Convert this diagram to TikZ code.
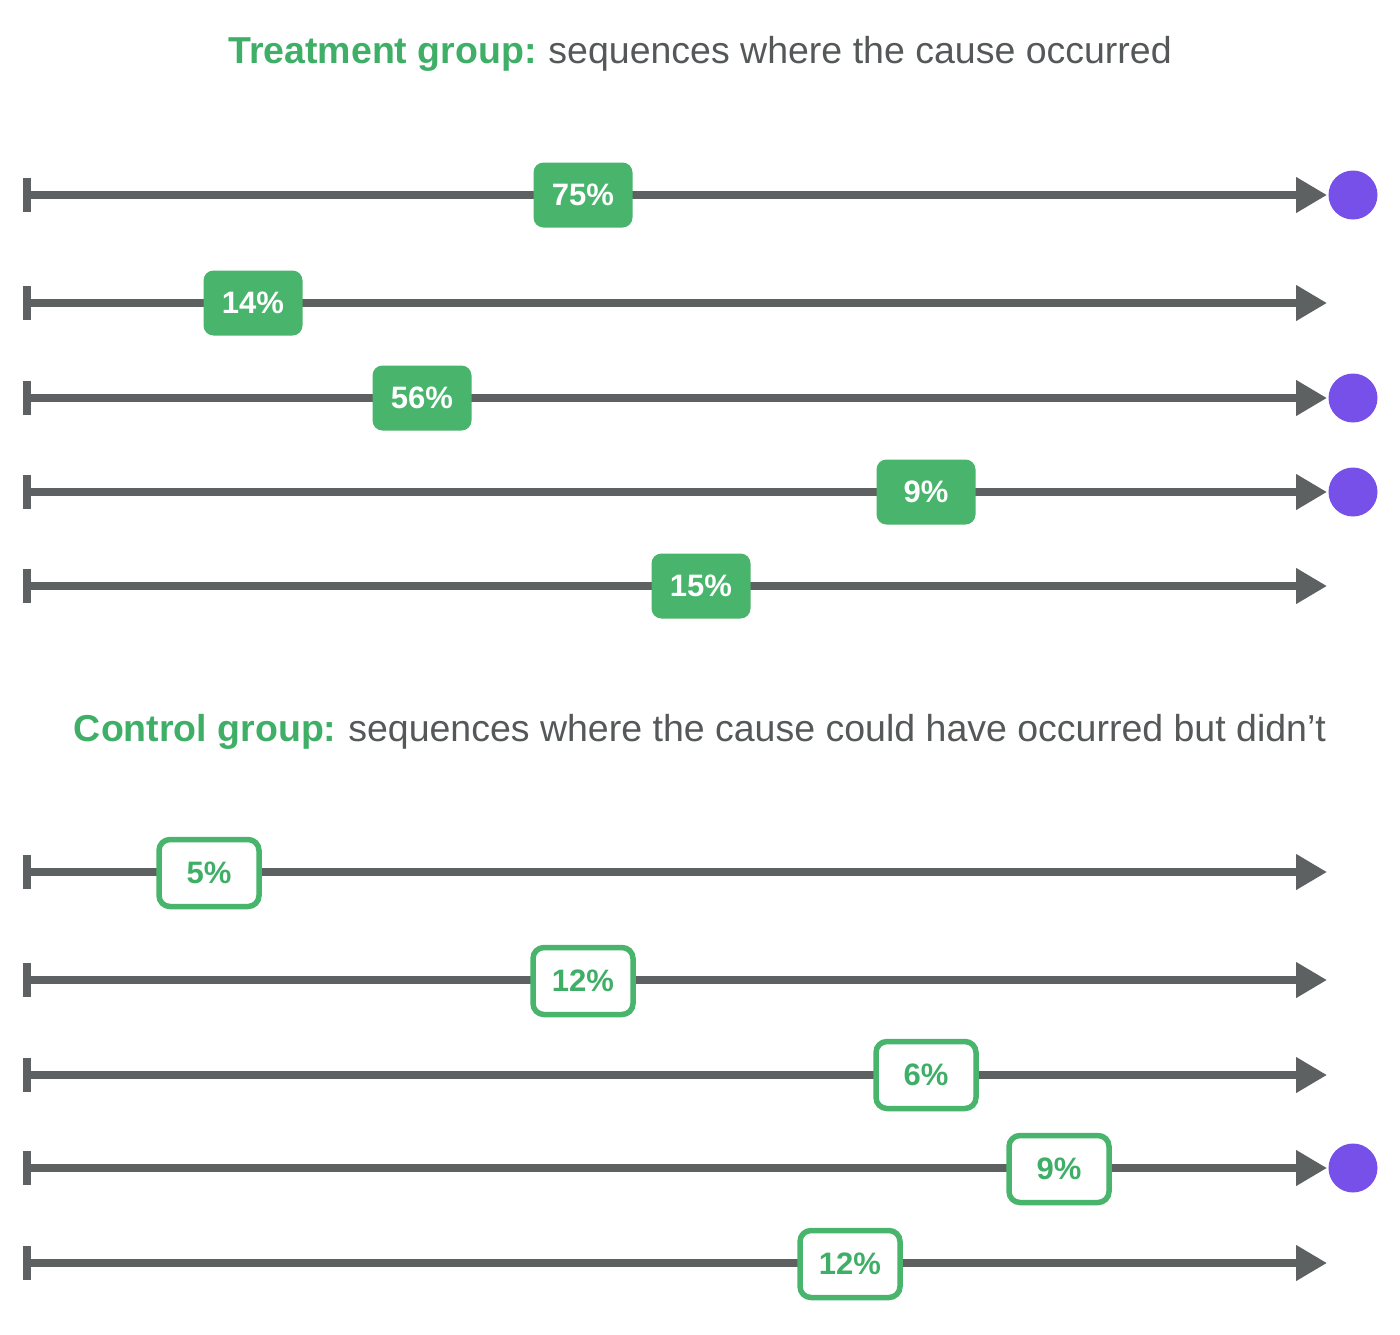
\documentclass[tikz,border=0pt]{standalone}
\usepackage{fontspec}
\setmainfont{Liberation Sans}
\usetikzlibrary{arrows.meta}
\definecolor{grn}{HTML}{48B46C}
\definecolor{grntxt}{HTML}{3FAF68}
\definecolor{linegray}{HTML}{5D6162}
\definecolor{txtgray}{HTML}{555859}
\definecolor{purp}{HTML}{774FE9}
\begin{document}
\begin{tikzpicture}[x=1pt,y=-1pt,
  seqline/.style={draw=linegray,line width=7.5pt,
    {Bar[width=34pt,line width=7.5pt]}-{Triangle[length=31pt,width=34pt]}},
  filledlab/.style={fill=grn,draw=none,rounded corners=10pt,minimum width=99pt,minimum height=65pt,
    text=white,font=\fontsize{31}{36}\selectfont\bfseries,inner sep=0pt},
  outlab/.style={fill=white,draw=grn,line width=5.5pt,rounded corners=11pt,minimum width=100pt,minimum height=67pt,
    text=grntxt,font=\fontsize{31}{36}\selectfont\bfseries,inner sep=0pt},
  dot/.style={circle,fill=purp,draw=none,minimum size=49pt,inner sep=0pt},
  title/.style={font=\fontsize{37.5}{44}\selectfont,text=txtgray,inner sep=0pt}]
\useasboundingbox (0,0) rectangle (1400,1334);
% titles
\node[title] (t1) at (700,54) {\textcolor{grntxt}{\bfseries Treatment group:}\hspace{-2pt} sequences where the cause occurred};
\node[title] (t2) at (700,732) {\textcolor{grntxt}{\bfseries Control group:}\hspace{-2pt} sequences where the cause could have occurred but didn’t};
% rows
\foreach \i/\y in {1/195,2/303,3/398,4/492,5/586,6/872,7/980,8/1075,9/1168,10/1263}{
  \coordinate (s\i) at (23,\y);
  \coordinate (e\i) at (1327,\y);
  \draw[seqline] (s\i) -- (e\i);
}
\node[filledlab] (l1) at (583,195) {75\%};
\node[filledlab] (l2) at (253,303) {14\%};
\node[filledlab] (l3) at (422,398) {56\%};
\node[filledlab] (l4) at (926,492) {9\%};
\node[filledlab] (l5) at (701,586) {15\%};
\node[outlab] (l6) at (209,873) {5\%};
\node[outlab] (l7) at (583,981) {12\%};
\node[outlab] (l8) at (926,1075) {6\%};
\node[outlab] (l9) at (1059,1169) {9\%};
\node[outlab] (l10) at (850,1264) {12\%};
% outcome dots
\node[dot] (d1) at (1353,195) {};
\node[dot] (d3) at (1353,398) {};
\node[dot] (d4) at (1353,492) {};
\node[dot] (d9) at (1353,1168) {};
\end{tikzpicture}
\end{document}
